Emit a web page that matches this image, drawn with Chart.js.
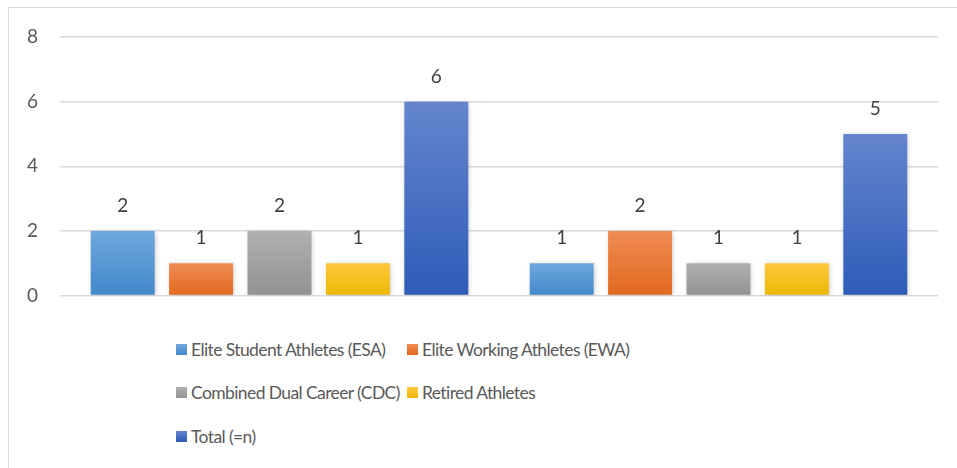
<!DOCTYPE html>
<html>
<head>
<meta charset="utf-8">
<script src="https://cdn.jsdelivr.net/npm/chart.js@4"></script>
<style>
    body { margin: 0; background: #fff; font-family: Lato, "Noto Sans", sans-serif; }
    #marco { position: absolute; left: 8px; top: 7px; width: 960px; height: 470px; border: 1px solid #d9d9d9; }
    #graficoAtletas { position: absolute; left: 0; top: 0; }
    #legenda { position: absolute; left: 176px; top: 336px; display: grid; grid-template-columns: 231px auto; grid-auto-rows: 26px; row-gap: 17.5px; }
    .item { display: flex; align-items: center; color: #595959; font-size: 17.5px; letter-spacing: -0.6px; white-space: nowrap; }
    .quadrado { flex: 0 0 11px; width: 11px; height: 11px; margin-right: 4px; }
</style>
</head>
<body>
<div id="marco"></div>
<canvas id="graficoAtletas" width="957" height="329"></canvas>
<div id="legenda"></div>
<script>
const GRAF_ATLETAS = document.getElementById("graficoAtletas");
const LEGENDA = document.getElementById("legenda");

// ------- dados -------
const grupos = ['', ''];
const series = ['Elite Student Athletes (ESA)', 'Elite Working Athletes (EWA)', 'Combined Dual Career (CDC)', 'Retired Athletes', 'Total (=n)'];
const qtdESA = [2, 1];
const qtdEWA = [1, 2];
const qtdCDC = [2, 1];
const qtdRetirados = [1, 1];
const qtdTotal = [6, 5];
const ticksY = [0, 2, 4, 6, 8];

// cores (topo, base) de cada série
const paletaCores = [
    ['#6fa7de', '#4288cb'],
    ['#f08c54', '#e2681d'],
    ['#b0b0b0', '#929292'],
    ['#ffc83c', '#ecb800'],
    ['#6585ce', '#2e5cb8']
];

function gradiente(cores){
    return (ctx) => {
        const chart = ctx.chart;
        if (!chart.chartArea || ctx.type !== 'data') return cores[1];
        const y = chart.scales.y;
        const topo = y.getPixelForValue(ctx.raw);
        const base = y.getPixelForValue(0);
        const g = chart.ctx.createLinearGradient(0, topo, 0, base);
        g.addColorStop(0, cores[0]);
        g.addColorStop(1, cores[1]);
        return g;
    };
}

const valores = [qtdESA, qtdEWA, qtdCDC, qtdRetirados, qtdTotal];
const datasets = series.map((nome, i) => ({
    label: nome,
    data: valores[i],
    backgroundColor: gradiente(paletaCores[i]),
    borderWidth: 0,
    categoryPercentage: 0.893,
    barPercentage: 0.816
}));

// sombra + rótulos em cima das barras
const pluginRotulos = {
    id: 'rotulos',
    beforeDatasetsDraw(chart){
        const ctx = chart.ctx;
        ctx.save();
        ctx.shadowColor = 'rgba(0,0,0,0.22)';
        ctx.shadowBlur = 5;
        ctx.shadowOffsetX = 1;
        ctx.shadowOffsetY = 1;
    },
    afterDatasetsDraw(chart){
        const ctx = chart.ctx;
        ctx.restore();
        ctx.save();
        ctx.font = '19px Lato, "Noto Sans", sans-serif';
        ctx.fillStyle = '#404040';
        ctx.textAlign = 'center';
        ctx.textBaseline = 'middle';
        chart.data.datasets.forEach((ds, i) => {
            chart.getDatasetMeta(i).data.forEach((barra, j) => {
                ctx.fillText(ds.data[j], barra.x, barra.y - 25);
            });
        });
        ctx.restore();
    }
};

new Chart(GRAF_ATLETAS, {
    type: 'bar',
    data: { labels: grupos, datasets: datasets },
    options: {
        responsive: false,
        animation: false,
        layout: { padding: { left: 10, right: 19, top: 37, bottom: 24 } },
        plugins: {
            legend: { display: false },
            tooltip: { enabled: false }
        },
        scales: {
            x: { display: false },
            y: {
                min: 0,
                max: 8,
                afterBuildTicks: (eixo) => { eixo.ticks = ticksY.map(v => ({ value: v })); },
                afterFit: (eixo) => { eixo.width = 50; },
                ticks: { color: '#595959', font: { family: 'Lato', size: 19 }, padding: 22 },
                grid: { color: '#d9d9d9', lineWidth: 1.5, drawTicks: false },
                border: { display: false }
            }
        }
    },
    plugins: [pluginRotulos]
});

// legenda em duas colunas
series.forEach((nome, i) => {
    const item = document.createElement('div');
    item.className = 'item';
    const q = document.createElement('span');
    q.className = 'quadrado';
    q.style.background = 'linear-gradient(' + paletaCores[i][0] + ',' + paletaCores[i][1] + ')';
    item.appendChild(q);
    item.appendChild(document.createTextNode(nome));
    LEGENDA.appendChild(item);
});
</script>
</body>
</html>
